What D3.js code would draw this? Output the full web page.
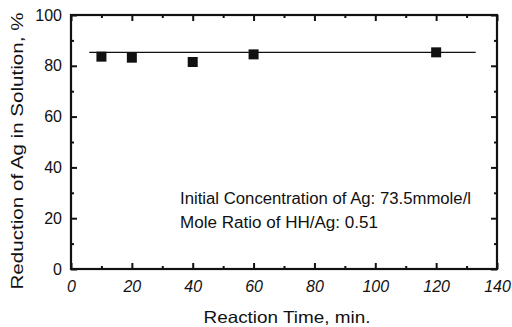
<!DOCTYPE html>
<html><head><meta charset="utf-8">
<script src="https://cdn.jsdelivr.net/npm/d3@7"></script>
<style>body{margin:0;background:#fff}svg{display:block}text{font-family:"Liberation Sans",Arial,sans-serif;fill:#111}</style>
</head><body>
<script>
const times = [10, 20, 40, 60, 120];
const reduction = [83.6, 83.2, 81.5, 84.5, 85.3];
const fitX = [6, 133];
const fitY = [85.3, 85.3];
const xTicks = [0, 20, 40, 60, 80, 100, 120, 140];
const yTicks = [0, 20, 40, 60, 80, 100];
const notes = ["Initial Concentration of Ag: 73.5mmole/l", "Mole Ratio of HH/Ag: 0.51"];

const W = 512, H = 327;
const m = {l: 71, t: 15, r: 15, b: 58};
const svg = d3.select("body").append("svg").attr("width", W).attr("height", H);
const x = d3.scaleLinear().domain([0, 140]).range([m.l, W - m.r]);
const y = d3.scaleLinear().domain([0, 100]).range([H - m.b, m.t]);
const minorX = d3.range(10, 140, 20), minorY = d3.range(10, 100, 20);

function axis(gen, tr, major, minor, fmt, pad) {
  const g = svg.append("g").attr("transform", tr);
  g.call(gen.tickValues(major).tickSize(-6).tickFormat(fmt).tickPadding(pad));
  g.selectAll(".tick line").attr("stroke", "#111").attr("stroke-width", 2);
  g.select(".domain").remove();
  const g2 = svg.append("g").attr("transform", tr);
  g2.call(gen.tickValues(minor).tickSize(-3).tickFormat(""));
  g2.selectAll(".tick line").attr("stroke", "#111").attr("stroke-width", 2);
  g2.select(".domain").remove();
  return g;
}
const gb = axis(d3.axisBottom(x), `translate(0,${H - m.b})`, xTicks, minorX, d3.format("d"), 12);
gb.selectAll("text").attr("font-size", 16).attr("font-style", "italic");
axis(d3.axisTop(x), `translate(0,${m.t})`, xTicks, minorX, "", 3);
const gl = axis(d3.axisLeft(y), `translate(${m.l},0)`, yTicks, minorY, d3.format("d"), 9);
gl.selectAll("text").attr("font-size", 16);
axis(d3.axisRight(y), `translate(${W - m.r},0)`, yTicks, minorY, "", 3);

svg.append("rect").attr("x", m.l).attr("y", m.t).attr("width", W - m.r - m.l).attr("height", H - m.b - m.t)
  .attr("fill", "none").attr("stroke", "#111").attr("stroke-width", 2.2);

svg.append("line").attr("x1", x(fitX[0])).attr("x2", x(fitX[1])).attr("y1", y(fitY[0])).attr("y2", y(fitY[1]))
  .attr("stroke", "#111").attr("stroke-width", 1.3);

const s = 10;
svg.selectAll("rect.pt").data(times).enter().append("rect").attr("class", "pt")
  .attr("x", (d) => x(d) - s / 2).attr("y", (d, i) => y(reduction[i]) - s / 2)
  .attr("width", s).attr("height", s).attr("fill", "#111");

const noteLen = [291, 198];
svg.selectAll("text.note").data(notes).enter().append("text").attr("class", "note")
  .attr("x", 180).attr("y", (d, i) => 203.5 + i * 24).attr("font-size", 16)
  .attr("textLength", (d, i) => noteLen[i]).attr("lengthAdjust", "spacingAndGlyphs").text((d) => d);

svg.append("text").attr("x", 287).attr("y", 323).attr("text-anchor", "middle")
  .attr("font-size", 16.5).attr("textLength", 167).attr("lengthAdjust", "spacingAndGlyphs")
  .text("Reaction Time, min.");
svg.append("text").attr("transform", `translate(23,151) rotate(-90)`)
  .attr("text-anchor", "middle").attr("font-size", 16.5).attr("textLength", 277).attr("lengthAdjust", "spacingAndGlyphs")
  .text("Reduction of Ag in Solution, %");
</script>
</body></html>
